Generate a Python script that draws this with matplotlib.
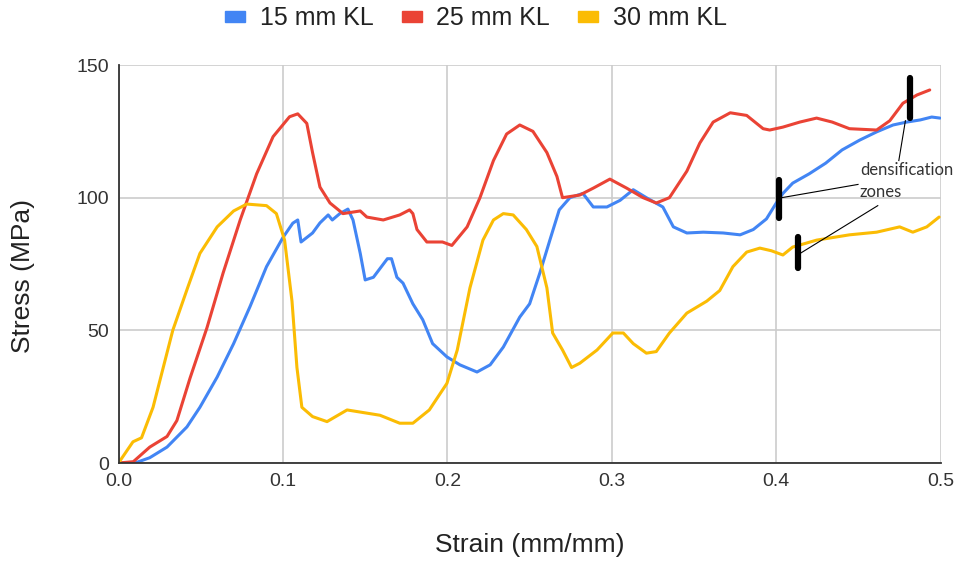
import matplotlib.pyplot as plt
from matplotlib.patches import Patch

# 应变-应力数据
strain_15 = [0.0, 0.010, 0.019, 0.0295, 0.0416, 0.0495, 0.060, 0.070, 0.080, 0.090, 0.100,
             0.106, 0.109, 0.111, 0.118, 0.1225, 0.1275, 0.130, 0.1346, 0.1395, 0.1426,
             0.147, 0.150, 0.155, 0.1635, 0.166, 0.1693, 0.173, 0.179, 0.185, 0.191,
             0.1997, 0.2076, 0.218, 0.226, 0.234, 0.244, 0.250, 0.2562, 0.2623, 0.268,
             0.2745, 0.2824, 0.2887, 0.297, 0.305, 0.313, 0.321, 0.331, 0.3374, 0.3456,
             0.3556, 0.3677, 0.378, 0.386, 0.394, 0.400, 0.404, 0.410, 0.420, 0.430,
             0.440, 0.4507, 0.461, 0.471, 0.4793, 0.4875, 0.4945, 0.4995]
stress_15 = [0, 0, 2, 6, 13.6, 21, 32.4, 45, 59, 74, 85,
             90.4, 91.6, 83.3, 86.7, 90.5, 93.5, 91.6, 94, 95.7, 91.6,
             79, 69, 70, 77, 77, 70, 67.8, 60, 54, 45,
             40, 37, 34.3, 37, 43.7, 55, 60, 71.6, 84, 95.4,
             100, 101.6, 96.5, 96.5, 99, 103, 100, 96.5, 89, 86.7,
             87, 86.7, 86, 88, 92, 98, 101.6, 105.5, 109, 113,
             118, 121.7, 124.8, 127.4, 128.5, 129.3, 130.4, 130]

strain_25 = [0.0, 0.009, 0.019, 0.0295, 0.0355, 0.0435, 0.0538, 0.0636, 0.074, 0.084, 0.094,
             0.104, 0.109, 0.1145, 0.118, 0.1225, 0.1286, 0.1365, 0.147, 0.151, 0.161,
             0.171, 0.177, 0.179, 0.1815, 0.1875, 0.197, 0.2027, 0.212, 0.2198, 0.228,
             0.236, 0.244, 0.252, 0.2605, 0.2666, 0.270, 0.2805, 0.2887, 0.2988, 0.309,
             0.319, 0.327, 0.335, 0.3456, 0.3535, 0.3616, 0.372, 0.382, 0.392, 0.396,
             0.404, 0.4143, 0.4245, 0.434, 0.4445, 0.461, 0.469, 0.477, 0.4855, 0.4933]
stress_25 = [0, 0.5, 6, 10, 16, 32, 51, 71.6, 91.6, 109, 123,
             130.5, 131.6, 128, 117, 104, 98, 94, 95, 92.7, 91.6,
             93.5, 95.4, 94, 88, 83.3, 83.3, 82, 89, 100, 114,
             124, 127.4, 125, 117, 108, 100, 101, 103.6, 107, 103.6,
             100, 98, 100, 110, 120.6, 128.5, 132, 131, 126, 125.5,
             126.6, 128.5, 130, 128.5, 126, 125.5, 129, 135.6, 138.7, 140.6]

strain_30 = [0.0, 0.0088, 0.014, 0.021, 0.033, 0.042, 0.0495, 0.060, 0.070, 0.078, 0.090,
             0.096, 0.101, 0.1055, 0.1085, 0.1115, 0.118, 0.1268, 0.139, 0.151, 0.159,
             0.171, 0.179, 0.189, 0.1997, 0.206, 0.2137, 0.2216, 0.228, 0.234, 0.240,
             0.248, 0.2544, 0.2605, 0.264, 0.270, 0.2755, 0.2805, 0.291, 0.3006, 0.307,
             0.313, 0.321, 0.327, 0.335, 0.3456, 0.3577, 0.3656, 0.3736, 0.382, 0.390,
             0.397, 0.404, 0.410, 0.4245, 0.4445, 0.461, 0.475, 0.483, 0.4915, 0.499]
stress_30 = [0, 8, 9.5, 21, 50, 66, 79, 89, 95, 97.6, 97,
             94, 84, 61, 36, 21, 17.5, 15.6, 20, 18.8, 18,
             15, 15, 20, 30, 42.6, 66, 84, 91.6, 94, 93.5,
             88, 81.6, 66, 49, 42.6, 36, 37.6, 42.6, 49, 49,
             45, 41.4, 42, 49, 56.5, 61, 65, 74, 79.5, 81,
             80, 78.4, 81.4, 84, 86, 87, 89, 87, 89, 92.7]

labels = ['15 mm KL', '25 mm KL', '30 mm KL']
colors = ['#4285F4', '#EA4335', '#FBBC04']

# 致密化区域标记 (应变, 应力下限, 应力上限)
marks_x = [0.4812, 0.4015, 0.413]
marks_lo = [130, 92.3, 73.5]
marks_hi = [145, 106.7, 85]

plt.rcParams['font.family'] = ['Liberation Sans', 'DejaVu Sans']

fig = plt.figure(figsize=(9.58, 5.63), dpi=100)
ax = fig.add_axes([0.1237, 0.1776, 0.8583, 0.7069])

series = [(strain_15, stress_15), (strain_25, stress_25), (strain_30, stress_30)]
for (x, y), c in zip(series, colors):
    ax.plot(x, y, color=c, lw=2.2, solid_capstyle='round', zorder=3)

ax.set_xlim(0, 0.5)
ax.set_ylim(0, 150)
ax.set_xticks([0.0, 0.1, 0.2, 0.3, 0.4, 0.5])
ax.set_xticklabels(['0.0', '0.1', '0.2', '0.3', '0.4', '0.5'])
ax.set_yticks([0, 50, 100, 150])
ax.grid(True, color='#cccccc', lw=1.2)
ax.set_axisbelow(True)
for s in ['top', 'right']:
    ax.spines[s].set_visible(False)
for s in ['left', 'bottom']:
    ax.spines[s].set_color('#333333')
    ax.spines[s].set_linewidth(1.3)
    ax.spines[s].set_zorder(4)
ax.tick_params(length=0, labelsize=14, colors='#333333', pad=7)

fig.text(530 / 958, 1 - 545 / 563, 'Strain (mm/mm)', fontsize=19, color='#222222',
         ha='center', va='center')
fig.text(23 / 958, 1 - 276 / 563, 'Stress (MPa)', fontsize=19, color='#222222',
         ha='center', va='center', rotation=90)

# 标注
for mx, lo, hi in zip(marks_x, marks_lo, marks_hi):
    ax.plot([mx, mx], [lo, hi], color='black', lw=4.5, solid_capstyle='round', zorder=5)
ax.plot([0.4785, 0.4745], [129, 114], color='black', lw=0.8, zorder=5)
ax.plot([0.4032, 0.4497], [100, 105], color='black', lw=0.8, zorder=5)
ax.plot([0.4145, 0.4617], [79, 97], color='black', lw=0.8, zorder=5)
ax.text(0.4508, 110.5, 'densification', fontsize=12, color='#333333',
        family=['Lato', 'DejaVu Sans'], va='center', ha='left', zorder=6)
ax.text(0.4508, 102.3, 'zones', fontsize=12, color='#333333',
        family=['Lato', 'DejaVu Sans'], va='center', ha='left', zorder=6)

handles = [Patch(facecolor=c, edgecolor=c) for c in colors]
fig.legend(handles, labels, loc='center', bbox_to_anchor=(476 / 958, 1 - 18 / 563), ncol=3,
           frameon=False, fontsize=18, handlelength=0.8, handleheight=0.3,
           handletextpad=0.6, columnspacing=1.1, labelcolor='#222222',
           borderpad=0, borderaxespad=0)

fig.savefig('out.png', dpi=100)
plt.close(fig)
